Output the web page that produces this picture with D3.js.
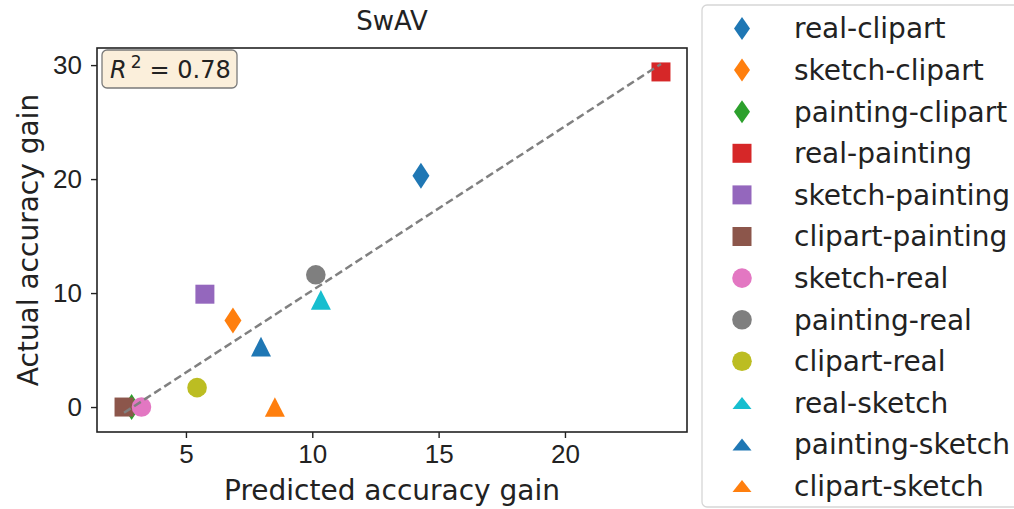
<!DOCTYPE html>
<html>
<head>
<meta charset="utf-8">
<script src="https://cdn.jsdelivr.net/npm/d3@7"></script>
<style>
  body { margin: 0; background: #fff; }
  svg { display: block; font-family: "DejaVu Sans", sans-serif; }
  .axis path, .axis line { stroke: #222; }
  .axis text { fill: #222; font-size: 26px; }
</style>
</head>
<body>
<div id="chart"></div>
<script>
// pairs (source-target)
var labels = ['real-clipart', 'sketch-clipart', 'painting-clipart', 'real-painting',
  'sketch-painting', 'clipart-painting', 'sketch-real', 'painting-real',
  'clipart-real', 'real-sketch', 'painting-sketch', 'clipart-sketch'];
var predicted = [14.3, 6.86, 2.85, 23.8, 5.75, 2.55, 3.24, 10.14, 5.44, 10.34, 7.97, 8.52];
var actual = [20.3, 7.6, 0, 29.4, 9.9, 0, 0, 11.6, 1.7, 9.4, 5.3, 0];
var shapes = ['diamond', 'diamond', 'diamond', 'square', 'square', 'square',
  'circle', 'circle', 'circle', 'triangle', 'triangle', 'triangle'];
var colors = ['#1f77b4', '#ff7f0e', '#2ca02c', '#d62728', '#9467bd', '#8c564b',
  '#e377c2', '#7f7f7f', '#bcbd22', '#17becf', '#1f77b4', '#ff7f0e'];

// fitted line end points
var fitX = [2.55, 23.8];
var fitY = [-0.5, 30.1];

var xTicks = [5, 10, 15, 20];
var yTicks = [0, 10, 20, 30];
var rSquared = '0.78';

var width = 1014, height = 509;
var plot = { left: 97, right: 687, top: 48, bottom: 432 };

var svg = d3.select('#chart').append('svg')
  .attr('width', width)
  .attr('height', height);

var x = d3.scaleLinear().domain([1.48, 24.83]).range([plot.left, plot.right]);
var y = d3.scaleLinear().domain([-2.19, 31.5]).range([plot.bottom, plot.top]);

// marker path, centred on 0,0; sizes in px
function markerPath(shape, legend) {
  if (shape === 'diamond') {
    var w = legend ? 8 : 8.5, h = legend ? 11.5 : 13;
    return 'M0,' + (-h) + 'L' + w + ',0L0,' + h + 'L' + (-w) + ',0Z';
  }
  if (shape === 'square') {
    var s = 9.5;
    return 'M' + (-s) + ',' + (-s) + 'H' + s + 'V' + s + 'H' + (-s) + 'Z';
  }
  if (shape === 'circle') {
    var r = 9.8;
    return 'M' + (-r) + ',0A' + r + ',' + r + ' 0 1,0 ' + r + ',0A' + r + ',' + r + ' 0 1,0 ' + (-r) + ',0Z';
  }
  // triangle up
  var tw = legend ? 9.5 : 10, th = legend ? 6 : 9.8;
  return 'M0,' + (-th) + 'L' + tw + ',' + th + 'L' + (-tw) + ',' + th + 'Z';
}

// axes frame
svg.append('rect')
  .attr('x', plot.left).attr('y', plot.top)
  .attr('width', plot.right - plot.left).attr('height', plot.bottom - plot.top)
  .attr('fill', 'none').attr('stroke', '#222').attr('stroke-width', 1.6);

var xAxis = svg.append('g')
  .attr('class', 'axis')
  .attr('transform', 'translate(0,' + plot.bottom + ')')
  .call(d3.axisBottom(x).tickValues(xTicks).tickSize(6).tickPadding(7).tickFormat(d3.format('d')));
xAxis.select('.domain').remove();
xAxis.selectAll('line').attr('stroke-width', 1.4);

var yAxis = svg.append('g')
  .attr('class', 'axis')
  .attr('transform', 'translate(' + plot.left + ',0)')
  .call(d3.axisLeft(y).tickValues(yTicks).tickSize(6).tickPadding(9).tickFormat(d3.format('d')));
yAxis.select('.domain').remove();
yAxis.selectAll('line').attr('stroke-width', 1.4);

// points
var data = labels.map(function(d, i) {
  return { label: d, px: predicted[i], ay: actual[i], shape: shapes[i], color: colors[i] };
});

svg.append('g').selectAll('path')
  .data(data)
  .enter().append('path')
    .attr('transform', function(d) { return 'translate(' + x(d.px) + ',' + y(d.ay) + ')'; })
    .attr('d', function(d) { return markerPath(d.shape, false); })
    .attr('fill', function(d) { return d.color; });

// fitted line on top
svg.append('path')
  .datum(fitX.map(function(d, i) { return [d, fitY[i]]; }))
  .attr('d', d3.line().x(function(d) { return x(d[0]); }).y(function(d) { return y(d[1]); }))
  .attr('fill', 'none')
  .attr('stroke', '#808080')
  .attr('stroke-width', 2.5)
  .attr('stroke-dasharray', '8,4');

// R^2 box
svg.append('rect')
  .attr('x', 102).attr('y', 50).attr('width', 135).attr('height', 38)
  .attr('rx', 5)
  .attr('fill', '#fbefdb')
  .attr('stroke', '#7a7a7a').attr('stroke-width', 1.3);

var rText = svg.append('text')
  .attr('x', 110).attr('y', 78)
  .style('font-size', '24px')
  .attr('fill', '#222');
rText.append('tspan').style('font-style', 'italic').text('R');
rText.append('tspan').attr('dy', -10).attr('dx', 4).style('font-size', '17px').text('2');
rText.append('tspan').attr('dy', 10).attr('dx', 8).text('= ' + rSquared);

// title and axis labels
svg.append('text')
  .attr('x', (plot.left + plot.right) / 2).attr('y', 30)
  .attr('text-anchor', 'middle')
  .style('font-size', '26px').attr('fill', '#222')
  .text('SwAV');

svg.append('text')
  .attr('x', (plot.left + plot.right) / 2).attr('y', 500)
  .attr('text-anchor', 'middle')
  .style('font-size', '28px').attr('fill', '#222')
  .text('Predicted accuracy gain');

svg.append('text')
  .attr('transform', 'translate(38,' + ((plot.top + plot.bottom) / 2) + ') rotate(-90)')
  .attr('text-anchor', 'middle')
  .style('font-size', '28px').attr('fill', '#222')
  .text('Actual accuracy gain');

// legend
var legend = svg.append('g');
legend.append('rect')
  .attr('x', 702).attr('y', 5).attr('width', 320).attr('height', 502)
  .attr('rx', 5)
  .attr('fill', '#fff')
  .attr('stroke', '#d6d6d6').attr('stroke-width', 1.3);

var rows = legend.selectAll('g.row')
  .data(data)
  .enter().append('g')
    .attr('class', 'row')
    .attr('transform', function(d, i) { return 'translate(0,' + (28.5 + i * 41.6) + ')'; });

rows.append('path')
  .attr('transform', 'translate(742,0)')
  .attr('d', function(d) { return markerPath(d.shape, true); })
  .attr('fill', function(d) { return d.color; });

rows.append('text')
  .attr('x', 794).attr('y', 0)
  .attr('dy', '0.35em')
  .style('font-size', '28px').attr('fill', '#222')
  .text(function(d) { return d.label; });
</script>
</body>
</html>
